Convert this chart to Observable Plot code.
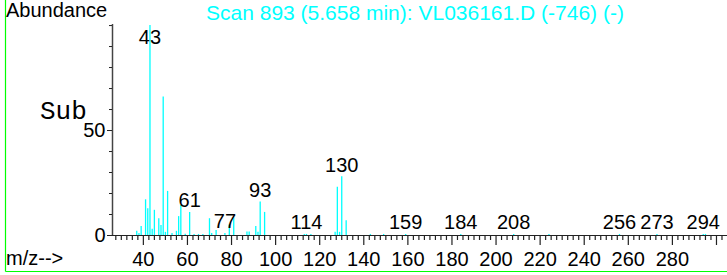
<!DOCTYPE html>
<html><head><meta charset="utf-8">
<script src="https://cdn.jsdelivr.net/npm/d3@7"></script>
<script src="https://cdn.jsdelivr.net/npm/@observablehq/plot@0.6"></script>
<style>
body{margin:0;background:#fff;}
#chart{width:727px;height:275px;}
</style></head><body>
<div id="chart"></div>
<script>
// m/z values and abundances of the spectrum peaks
const mz        = [37, 38, 39, 41, 42, 43, 44, 45, 47, 48, 49, 50, 51, 53, 55, 56, 57, 59, 61, 63, 65, 67, 70, 71, 73, 77, 79, 81, 87, 88, 91, 92, 93, 95, 113, 114, 116, 127, 128, 129, 130, 132, 143, 149, 159, 184, 208, 224, 256, 273, 294, 295];
const abundance = [2, 1, 4.3, 17, 12.7, 100, 3, 12, 8, 4.8, 66, 1.5, 21, 1, 2, 9, 14.3, 0.6, 11, 0.5, 0.5, 0.5, 8, 1, 2.4, 1, 5, 8.5, 1.7, 1.7, 4.3, 1.5, 16, 11, 0.5, 0.5, 0.5, 1.5, 23, 1.5, 28, 7, 0.5, 0.5, 0.5, 0.5, 0.5, 0.5, 0.5, 0.5, 0.5, 0.5];
// labelled peaks
const labelMz = [43, 61, 77, 93, 114, 130, 159, 184, 208, 256, 273, 294];
// axis ticks
const xDomain = [26, 305];
const yDomain = [0, 100.5];
const xMajorTicks = [40, 60, 80, 100, 120, 140, 160, 180, 200, 220, 240, 260, 280, 300];
const xTickLabels = [40, 60, 80, 100, 120, 140, 160, 180, 200, 220, 240, 260, 280];
const xMinorTicks = d3.range(27.5, 305, 2.5).filter(v => v % 20 !== 0);
const yMinorTicks = [10, 20, 30, 40, 60, 70, 80, 90, 100];
const yTickLabels = [0, 50];

const peaks = mz.map((m, i) => ({mz: m, ab: abundance[i]}));
const labels = labelMz.map(m => peaks.find(p => p.mz === m));

const FONT = "'Liberation Sans', Arial, sans-serif";
const ink = "#222";

const chart = Plot.plot({
  width: 727,
  height: 275,
  marginLeft: 112,
  marginRight: 0,
  marginTop: 24,
  marginBottom: 40,
  style: {fontFamily: FONT, fontSize: "20px", background: "#fff", color: ink, overflow: "visible"},
  x: {domain: xDomain},
  y: {domain: yDomain},
  marks: [
    Plot.ruleX(peaks, {x: "mz", y1: 0, y2: "ab", stroke: "#00ffff", strokeWidth: 1.3}),
    Plot.ruleY([0], {stroke: ink, strokeWidth: 1.2}),
    Plot.ruleX([xDomain[0]], {stroke: "#444", strokeWidth: 1.5}),
    Plot.axisX({ticks: xMinorTicks, tickSize: 5, tickFormat: () => "", label: null, stroke: ink, strokeWidth: 1.2}),
    Plot.axisX({ticks: xMajorTicks, tickSize: 10, tickFormat: () => "", label: null, stroke: ink, strokeWidth: 1.2}),
    Plot.axisX({ticks: xTickLabels, tickSize: 0, tickPadding: 16, fontSize: 20, label: null, fill: "#000"}),
    Plot.axisY({ticks: yMinorTicks, tickSize: 3, tickFormat: () => "", label: null, stroke: ink}),
    Plot.axisY({ticks: yTickLabels, tickSize: 5, tickPadding: 2, fontSize: 20, label: null, fill: "#000", stroke: ink}),
    Plot.text(labels, {x: "mz", y: d => Math.min(d.ab, 89), text: d => String(d.mz), dy: -5, lineAnchor: "bottom", fontSize: 20, fill: "#000"})
  ]
});

const svg = d3.select(chart);
// green frame
svg.append("line").attr("x1", 5.5).attr("x2", 5.5).attr("y1", 0).attr("y2", 271.5).attr("stroke", "#00ff00").attr("stroke-width", 1.2);
svg.append("line").attr("x1", 5.5).attr("x2", 727).attr("y1", 271.5).attr("y2", 271.5).attr("stroke", "#00ff00").attr("stroke-width", 1.2);
// texts
const addText = (x, y, size, fill, str, family) => {
  const t = svg.append("text").attr("x", x).attr("y", y).attr("font-size", size)
    .attr("fill", fill).attr("text-anchor", "start").style("text-anchor", "start").text(str);
  if (family) t.style("font-family", family);
  return t;
};
addText(6, 17, 20, "#000", "Abundance");
addText(206, 20, 21, "#00ffff", "Scan 893 (5.658 min): VL036161.D (-746) (-)");
addText(40, 119, 26, "#000", "Sub", "'Liberation Mono', 'Courier New', monospace");
addText(6, 265, 20, "#000", "m/z-->");

document.getElementById("chart").appendChild(chart);
</script>
</body></html>
